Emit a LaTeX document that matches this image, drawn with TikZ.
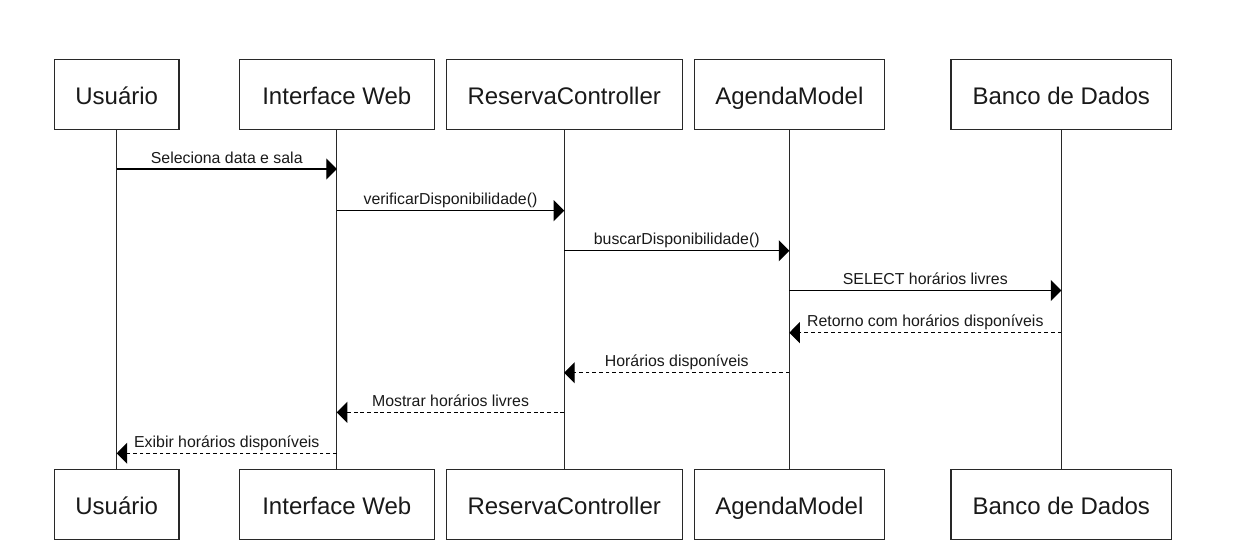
\documentclass[tikz,border=0pt]{standalone}
\usepackage{fontspec}
\setmainfont{Liberation Sans}
\usetikzlibrary{arrows.meta,calc}
\definecolor{linec}{RGB}{40,40,40}
\tikzset{
  part/.style={draw=linec, line width=0.85pt, minimum height=52.5pt, inner sep=0pt,
    text height=15pt, text depth=0pt,
    font=\fontsize{18}{21}\selectfont, text=black!90},
  life/.style={draw=linec, line width=0.85pt},
  msg/.style={draw=black, line width=0.85pt, -{Triangle[length=7.9pt,width=15.75pt]}},
  ret/.style={msg, dash pattern=on 2.8pt off 2.2pt},
  lbl/.style={anchor=base, yshift=4.5pt, inner sep=0pt, font=\fontsize{11.9}{14}\selectfont, text=black!90}
}
\begin{document}
\begin{tikzpicture}[x=0.75pt,y=-0.75pt]
\useasboundingbox (0,0) rectangle (1235,553);
% top participants
\node[part, minimum width=93.5pt]  (u1) at (116.7,94.3) {Usuário};
\node[part, minimum width=146.25pt] (w1) at (336.8,94.3) {Interface Web};
\node[part, minimum width=177.2pt] (r1) at (564.2,94.3) {ReservaController};
\node[part, minimum width=142.5pt] (a1) at (789.3,94.3) {AgendaModel};
\node[part, minimum width=165.5pt] (b1) at (1061.3,94.3) {Banco de Dados};
% bottom participants
\node[part, minimum width=93.5pt]  (u2) at (116.7,504.3) {Usuário};
\node[part, minimum width=146.25pt] (w2) at (336.8,504.3) {Interface Web};
\node[part, minimum width=177.2pt] (r2) at (564.2,504.3) {ReservaController};
\node[part, minimum width=142.5pt] (a2) at (789.3,504.3) {AgendaModel};
\node[part, minimum width=165.5pt] (b2) at (1061.3,504.3) {Banco de Dados};
% lifelines
\draw[life] (u1.south) -- (u2.north);
\draw[life] (w1.south) -- (w2.north);
\draw[life] (r1.south) -- (r2.north);
\draw[life] (a1.south) -- (a2.north);
\draw[life] (b1.south) -- (b2.north);
% message levels
\coordinate (m1) at (0,169);
\coordinate (m2) at (0,210.7);
\coordinate (m3) at (0,250.7);
\coordinate (m4) at (0,290.5);
\coordinate (m5) at (0,332.7);
\coordinate (m6) at (0,372.7);
\coordinate (m7) at (0,412.3);
\coordinate (m8) at (0,453.3);
% messages
\draw[msg] (u1.south |- m1) -- node[lbl]{Seleciona data e sala} (w1.south |- m1);
\draw[msg] (w1.south |- m2) -- node[lbl]{verificarDisponibilidade()} (r1.south |- m2);
\draw[msg] (r1.south |- m3) -- node[lbl]{buscarDisponibilidade()} (a1.south |- m3);
\draw[msg] (a1.south |- m4) -- node[lbl]{SELECT horários livres} (b1.south |- m4);
\draw[ret] (b1.south |- m5) -- node[lbl]{Retorno com horários disponíveis} (a1.south |- m5);
\draw[ret] (a1.south |- m6) -- node[lbl]{Horários disponíveis} (r1.south |- m6);
\draw[ret] (r1.south |- m7) -- node[lbl]{Mostrar horários livres} (w1.south |- m7);
\draw[ret] (w1.south |- m8) -- node[lbl]{Exibir horários disponíveis} (u1.south |- m8);
\end{tikzpicture}
\end{document}
